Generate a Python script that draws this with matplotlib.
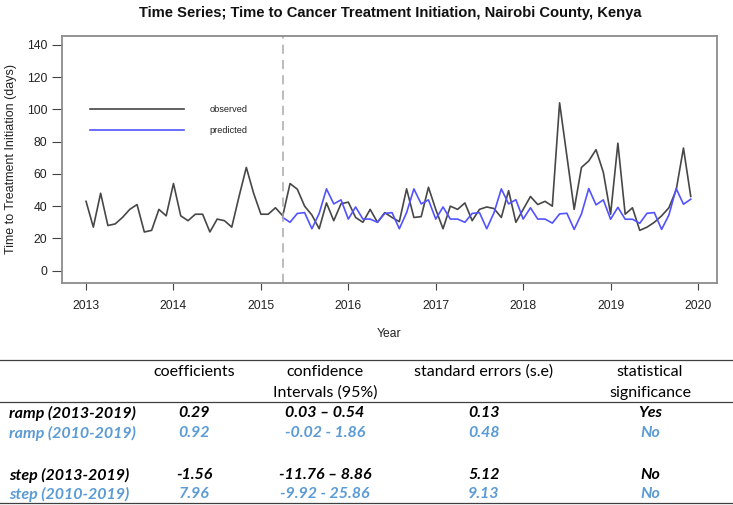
import numpy as np
import matplotlib
matplotlib.use("Agg")
import matplotlib.pyplot as plt
from matplotlib.lines import Line2D

# ---------------- data ----------------
start_year = 2013
intervention = 2015.25
observed = [43, 27, 48, 28, 29, 33, 38, 41, 24, 25, 38, 34,
            54, 34, 31, 35, 35, 24, 32, 31, 27, 46, 64, 48,
            35, 35, 39, 34, 54, 50.5, 40, 34.5, 26, 42, 31, 41.5,
            42.5, 33, 30, 38, 30, 36, 33, 30.4, 50.7, 33, 33.5, 51.7,
            38, 26, 40, 38, 42, 31, 38, 39.5, 38.5, 33, 49.6, 30,
            38, 46, 41, 43, 40, 104, 71, 38, 64, 68, 75, 61,
            35, 79, 35, 39, 25, 27, 30, 34, 39, 50, 76, 46]
predicted = [33, 30, 35.5, 36, 26, 35.5, 50.7, 41.4, 43.9,
             32, 39.5, 32, 32, 30, 35.5, 36, 26, 36, 50.7, 41.4, 43.9,
             32, 39.5, 32, 32, 30, 35.5, 36, 26, 36, 50.7, 41.4, 44,
             32, 39, 32, 32, 29.5, 35.2, 35.6, 25.6, 35.2, 50.9, 40.8, 43.9,
             31.9, 39.3, 31.9, 31.9, 29.4, 35.6, 36, 25.6, 34.5, 50.9, 41.2, 44.3]
x_ticks = [2013, 2014, 2015, 2016, 2017, 2018, 2019, 2020]
y_ticks = [0, 20, 40, 60, 80, 100, 120, 140]

title = "Time Series; Time to Cancer Treatment Initiation, Nairobi County, Kenya"
xlabel = "Year"
ylabel = "Time to Treatment Initiation (days)"
legend_labels = ["observed", "predicted"]

table_header = ["coefficients", "confidence\nIntervals (95%)",
                "standard errors (s.e)", "statistical\nsignificance"]
row_labels = ["ramp (2013-2019)", "ramp (2010-2019)", "step (2013-2019)", "step (2010-2019)"]
coefficients = ["0.29", "0.92", "-1.56", "7.96"]
conf_intervals = ["0.03 \u2013 0.54", "-0.02 - 1.86", "-11.76 \u2013 8.86", "-9.92 - 25.86"]
std_errors = ["0.13", "0.48", "5.12", "9.13"]
significance = ["Yes", "No", "No", "No"]
row_colors = ["black", "#5B9BD5", "black", "#5B9BD5"]

# ---------------- figure ----------------
W, H = 733, 505
fig = plt.figure(figsize=(W / 100, H / 100), dpi=100)
plt.rcParams['font.family'] = ['Liberation Sans', 'DejaVu Sans']

def fx(px):
    return px / W

def fy(py):
    return 1 - py / H

ax = fig.add_axes([fx(62), fy(283), fx(717) - fx(62), fy(36) - fy(283)])

n_obs = len(observed)
x_obs = start_year + np.arange(n_obs) / 12.0
x_pred = x_obs[n_obs - len(predicted):]

ax.plot(x_obs, observed, color="#474747", lw=1.2, label=legend_labels[0])
ax.plot(x_pred, predicted, color="#5252FF", lw=1.2, label=legend_labels[1])
ax.axvline(intervention, color="#AAAAAA", lw=1.1, ls=(0, (6, 4)))

ax.set_xlim(2012.725, 2020.217)
ax.set_ylim(-7.6, 145.4)
ax.set_xticks(x_ticks)
ax.set_yticks(y_ticks)
ax.set_xticklabels([str(t) for t in x_ticks], fontsize=8.7, color="#222222")
ax.set_yticklabels([str(t) for t in y_ticks], fontsize=8.7, color="#222222")
ax.tick_params(axis='x', length=5, width=0.8, pad=7, color="#444444")
ax.tick_params(axis='y', length=7, width=0.8, pad=3.5, color="#444444")
for s in ax.spines.values():
    s.set_color("#8C8C8C")
    s.set_linewidth(1.3)

ax.set_xlabel(xlabel, fontsize=8.7, color="#222222", labelpad=12)
ax.set_ylabel(ylabel, fontsize=9.0, color="#222222", labelpad=7)

leg = ax.legend(loc="upper left", bbox_to_anchor=((90 - 62) / 655, 1 - (105 - 36) / 247),
                frameon=False, fontsize=6.6, handlelength=10.2, handletextpad=2.8,
                labelspacing=1.3, borderpad=0, borderaxespad=0)
for t in leg.get_texts():
    t.set_color("#222222")

fig.text(fx(390), fy(13), title, ha="center", va="center", fontsize=10.6,
         fontweight="bold", color="#111111")

# ---------------- table ----------------
tfont = ['Lato', 'DejaVu Sans']
col_x = [194, 325, 484, 650]
hdr_y = 372
line_gap = 21
for cx, h in zip(col_x, table_header):
    lines = h.split("\n")
    for k, ln in enumerate(lines):
        fig.text(fx(cx), fy(hdr_y + k * line_gap), ln, ha="center", va="center",
                 fontsize=11.5, family=tfont, color="black")

row_y = [413, 433, 475, 494]
for r in range(len(row_labels)):
    c = row_colors[r]
    kw = dict(va="center", fontsize=11.5, family=tfont, fontweight="bold",
              fontstyle="italic", color=c)
    fig.text(fx(9), fy(row_y[r]), row_labels[r], ha="left", **kw)
    for cx, val in zip(col_x, [coefficients[r], conf_intervals[r], std_errors[r], significance[r]]):
        fig.text(fx(cx), fy(row_y[r]), val, ha="center", **kw)

for yy in [360, 402, 503]:
    fig.add_artist(Line2D([0, 1], [fy(yy), fy(yy)], transform=fig.transFigure,
                          color="#404040", lw=0.9))

fig.savefig("out.png", dpi=100)
